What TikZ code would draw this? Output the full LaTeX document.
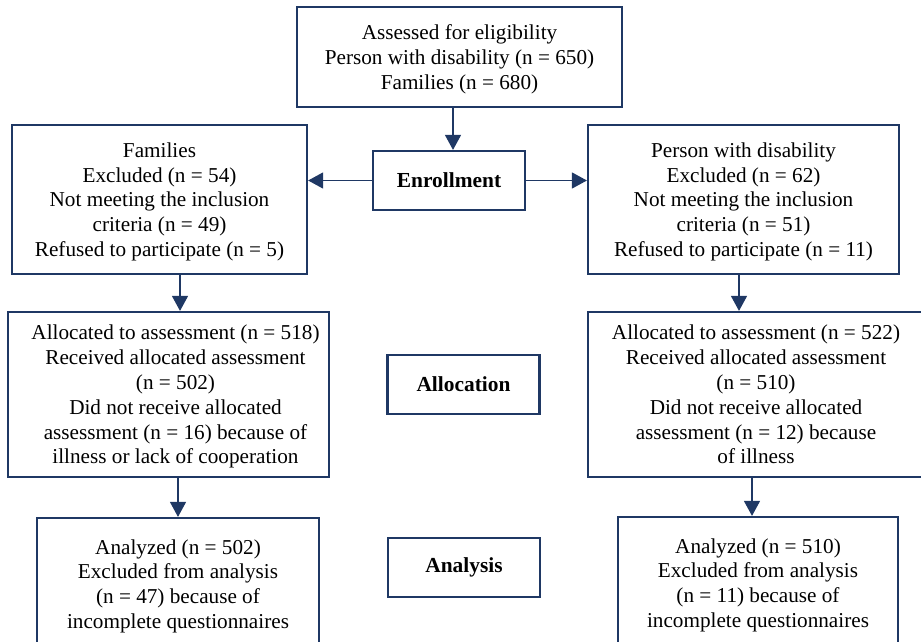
\documentclass[tikz,border=0pt]{standalone}
\usepackage{fontspec}
\setmainfont{Liberation Serif}
\usepackage{xcolor}
\usetikzlibrary{arrows.meta,positioning,calc}
\definecolor{navy}{RGB}{31,56,100}

\begin{document}
\begin{tikzpicture}[x=0.5pt,y=-0.5pt,
    box/.style={draw=navy,line width=1.1pt,align=center,inner sep=0pt,text depth=0pt,font=\fontsize{10.6}{12.4}\selectfont},
    stage/.style={draw=navy,line width=1.1pt,inner sep=0pt,font=\fontsize{10.7}{12.4}\selectfont\bfseries,minimum width=76pt,minimum height=29.5pt},
    arr/.style={draw=navy,line width=0.65pt,-{Triangle[length=7.5pt,width=8pt]}}]
    \clip (0,0) rectangle (921,642);
    \node [box,minimum width=162.5pt,minimum height=50pt] (top) at (459.5,57) {Assessed for eligibility\\Person with disability (n = 650)\\Families (n = 680)};
    \node [stage] (enroll) at (449,180.5) {Enrollment};
    \node [box,minimum width=147.5pt,minimum height=74.5pt] (famL) at (159.5,199.5) {Families\\Excluded (n = 54)\\Not meeting the inclusion\\criteria (n = 49)\\Refused to participate (n = 5)};
    \node [box,minimum width=155.5pt,minimum height=74.5pt] (pwdR) at (743.5,199.5) {Person with disability\\Excluded (n = 62)\\Not meeting the inclusion\\criteria (n = 51)\\Refused to participate (n = 11)};

    \node [box,minimum width=160.5pt,minimum height=82.5pt] (allocL) at (168.5,394.5) {\hspace*{7pt}Allocated to assessment (n = 518)\\\hspace*{7pt}Received allocated assessment\\\hspace*{7pt}(n = 502)\\\hspace*{7pt}Did not receive allocated\\\hspace*{7pt}assessment (n = 16) because of\\\hspace*{7pt}illness or lack of cooperation};
    \node [stage] (alloc) at (463.5,384.5) {Allocation};
    \node [box,minimum width=168pt,minimum height=82.5pt] (allocR) at (756,394.5) {Allocated to assessment (n = 522)\\Received allocated assessment\\(n = 510)\\Did not receive allocated\\assessment (n = 12) because\\of illness};

    \node [box,minimum width=141pt,minimum height=66pt] (anL) at (178,584) {Analyzed (n = 502)\\Excluded from analysis\\(n = 47) because of\\incomplete questionnaires};
    \node [stage] (analysis) at (464,567.5) {Analysis};
    \node [box,minimum width=140pt,minimum height=66pt] (anR) at (758,583) {Analyzed (n = 510)\\Excluded from analysis\\(n = 11) because of\\incomplete questionnaires};

    \draw [arr] ([xshift=2pt]enroll.north |- top.south) -- ([xshift=2pt]enroll.north);
    \draw [arr] (enroll.west) -- (enroll.west -| famL.east);
    \draw [arr] (enroll.east) -- (enroll.east -| pwdR.west);
    \draw [arr] ([xshift=1pt]famL.south -| anL.north) -- ([xshift=1pt]allocL.north -| anL.north);
    \draw [arr] (allocL.south -| anL.north) -- (anL.north);
    \draw [arr] ([xshift=-2.25pt]pwdR.south) -- ([xshift=-2.25pt]pwdR.south |- allocR.north);
    \draw [arr] ([xshift=-3pt]allocR.south -| anR.north) -- ([xshift=-3pt]anR.north);
\end{tikzpicture}
\end{document}
